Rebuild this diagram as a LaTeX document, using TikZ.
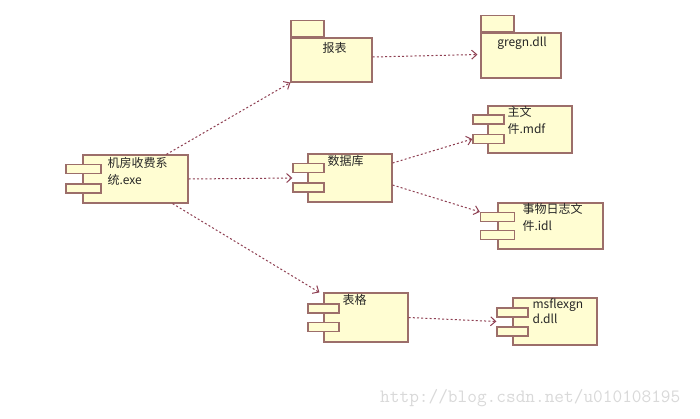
\documentclass[tikz,border=0pt]{standalone}
\usepackage{fontspec}
\setmainfont{Noto Sans CJK SC}
\usetikzlibrary{arrows.meta, positioning, calc}

\definecolor{boxfill}{HTML}{FFFDD2}
\definecolor{boxline}{HTML}{9C6E6A}
\definecolor{linkred}{HTML}{8E3F52}
\definecolor{textgray}{HTML}{262626}

\begin{document}
\begin{tikzpicture}[x=1pt, y=-1pt,
  comp/.style={draw=boxline, fill=boxfill, line width=1.2pt, minimum width=84pt,
               minimum height=48pt, inner sep=0pt},
  port/.style={draw=boxline, fill=boxfill, line width=1.2pt, minimum width=31pt,
               minimum height=9pt, inner sep=0pt},
  pkgtab/.style={draw=boxline, fill=boxfill, line width=1.2pt, minimum width=33pt,
               minimum height=16pt, inner sep=0pt, anchor=south west},
  lbl/.style={anchor=north west, align=left, inner sep=0pt, text=textgray,
              font=\fontsize{12}{17}\selectfont},
  dep/.style={linkred, line width=1pt, dash pattern=on 2pt off 2.2pt,
              -{Straight Barb[length=5pt, width=9pt]}},
]
  \useasboundingbox[fill=white] (0,0) rectangle (700,418);

  % packages
  \node[comp, minimum width=81pt, minimum height=44pt] (report) at (331.5,60) {};
  \node[pkgtab] (reporttab) at (report.north west) {};
  \node[lbl, anchor=north] (reportlbl) at ($(report.north)+(3,5)$) {报表};

  \node[comp, minimum width=80pt, minimum height=45pt] (gregn) at (521,55.5) {};
  \node[pkgtab] (gregntab) at (gregn.north west) {};
  \node[lbl, anchor=north] (gregnlbl) at ($(gregn.north)+(1,4)$) {gregn.dll};

  % components
  \node[comp, minimum width=105pt] (main) at (135.5,179) {};
  \node[port, minimum width=35pt] (mainp1) at ($(main.west)+(1,-10)$) {};
  \node[port, minimum width=35pt] (mainp2) at ($(main.west)+(1,9.5)$) {};
  \node[lbl] (mainlbl) at ($(main.north west)+(25,3)$) {机房收费系\\统.exe};

  \node[comp] (db) at (350,178) {};
  \node[port] (dbp1) at ($(db.west)+(1,-10)$) {};
  \node[port] (dbp2) at ($(db.west)+(1,9.5)$) {};
  \node[lbl] (dblbl) at ($(db.north west)+(20,2)$) {数据库};

  \node[comp, minimum height=47pt] (mdf) at (530,129.5) {};
  \node[port] (mdfp1) at ($(mdf.west)+(1,-10)$) {};
  \node[port] (mdfp2) at ($(mdf.west)+(1,9.5)$) {};
  \node[lbl] (mdflbl) at ($(mdf.north west)+(20,1)$) {主文\\件.mdf};

  \node[comp, minimum width=105pt, minimum height=46pt] (log) at (550.5,226) {};
  \node[port, minimum width=34pt] (logp1) at ($(log.west)+(0,-9)$) {};
  \node[port, minimum width=34pt] (logp2) at ($(log.west)+(0,9)$) {};
  \node[lbl] (loglbl) at ($(log.north west)+(25,1)$) {事物日志文\\件.idl};

  \node[comp, minimum height=49pt] (grid) at (366,317.5) {};
  \node[port] (gridp1) at ($(grid.west)+(0,-9)$) {};
  \node[port] (gridp2) at ($(grid.west)+(0,9.5)$) {};
  \node[lbl] (gridlbl) at ($(grid.north west)+(19,2)$) {表格};

  \node[comp, minimum height=47pt] (flex) at (555,321.5) {};
  \node[port] (flexp1) at ($(flex.west)+(0,-9)$) {};
  \node[port] (flexp2) at ($(flex.west)+(0,10)$) {};
  \node[lbl, font=\fontsize{12}{15}\selectfont] (flexlbl) at ($(flex.north west)+(20,1)$) {msflexgn\\d.dll};

  % dependencies
  \draw[dep] ($(main.north west)+(84,0)$) -- (report.south west);
  \draw[dep] (main.east) -- (dbp1.west |- db.west);
  \draw[dep] ($(main.south east)+(-16,0)$) -- ($(grid.north west)+(-4,0)$);
  \draw[dep] ($(report.east)+(0,-3)$) -- ($(gregn.west)+(-3,-1)$);
  \draw[dep] ($(db.east)+(0,-15)$) -- (mdfp2.west);
  \draw[dep] ($(db.east)+(0,7)$) -- (logp1.north west);
  \draw[dep] (grid.east) -- (flexp1.west |- flex.west);

  % watermark
  \node[anchor=west, inner sep=0pt, text=black!15, font=\ttfamily\fontsize{18.8}{20}\selectfont]
    (mark) at (380,398) {http://blog.csdn.net/u010108195};
\end{tikzpicture}
\end{document}
